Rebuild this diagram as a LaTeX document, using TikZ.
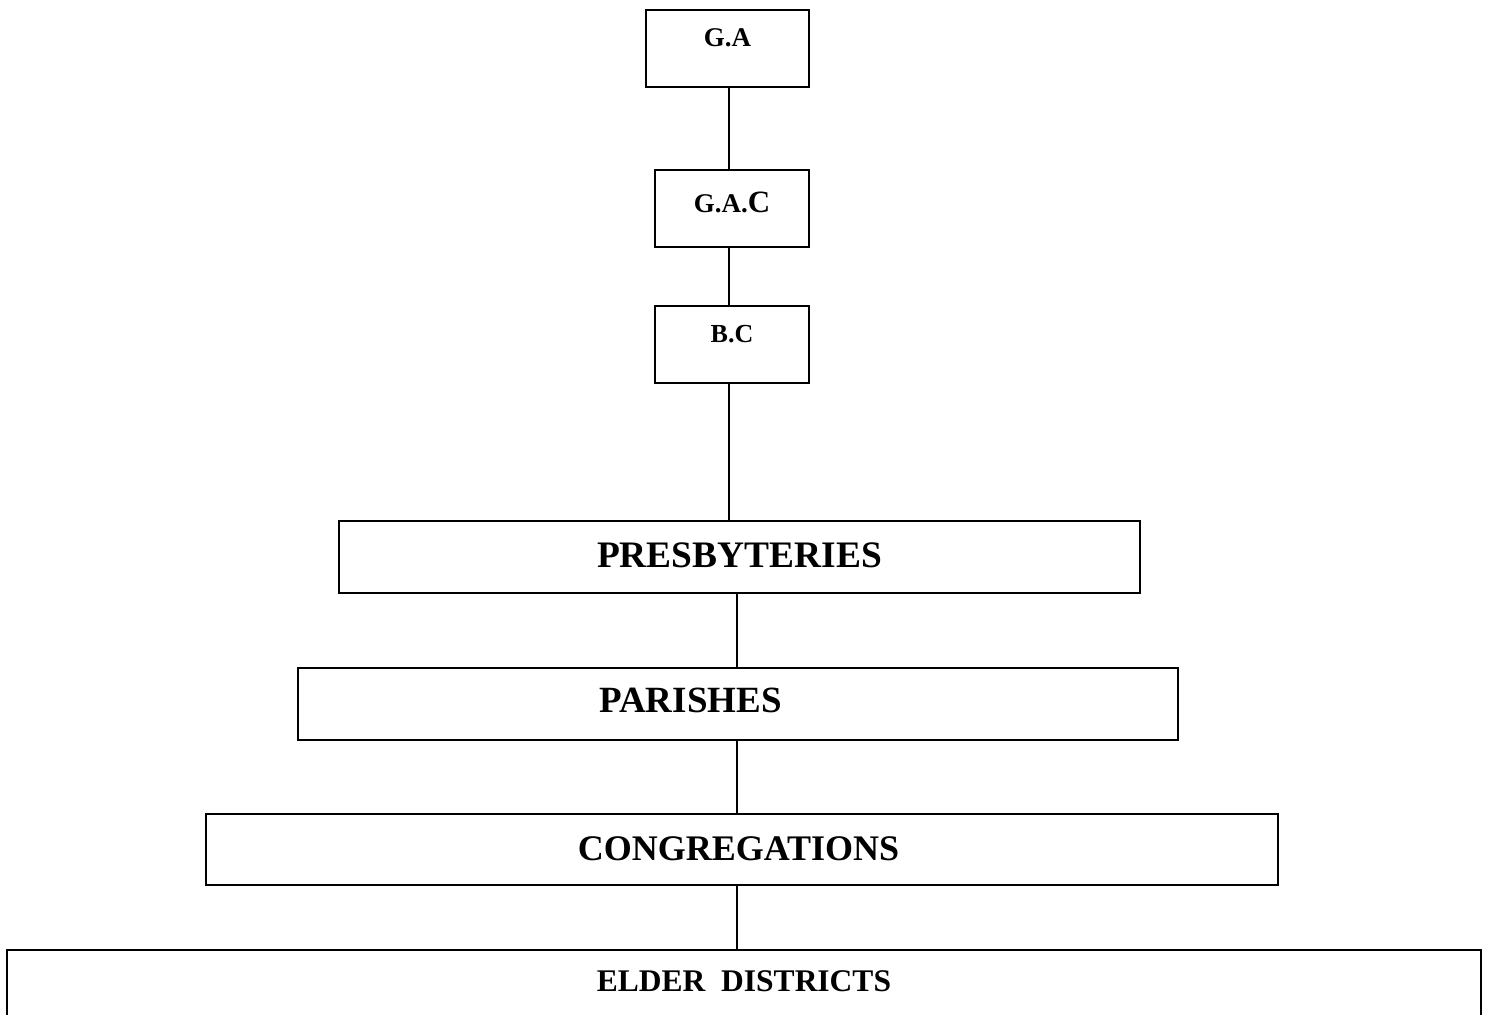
\documentclass[tikz,border=0pt]{standalone}
\usepackage{fontspec}
\setmainfont{Liberation Serif}
\begin{document}
\begin{tikzpicture}[x=0.5pt,y=-0.5pt,
  smallbox/.style={draw, rectangle, inner sep=0pt, line width=0.8pt,
    font=\bfseries\fontsize{13.5pt}{16pt}\selectfont},
  bigbox/.style={draw, rectangle, inner sep=0pt, line width=1.3pt},
  link/.style={line width=0.85pt}]
\useasboundingbox[fill=white] (0,0) rectangle (1486,1015);
% upper small boxes
\node[smallbox, minimum width=81.5pt, minimum height=38.5pt, text height=18.5pt, text depth=20pt] (ga) at (727.5,48.5) {G.A};
\node[smallbox, minimum width=77pt, minimum height=38.5pt, text height=21.5pt, text depth=17pt] (gac) at (732,208.5) {G.A.{\fontsize{15.5pt}{18pt}\selectfont C}};
\node[smallbox, minimum width=77pt, minimum height=38.5pt, text height=18.5pt, text depth=20pt, font=\bfseries\fontsize{13pt}{16pt}\selectfont] (bc) at (732,344.5) {B.C};
% big boxes
\node[bigbox, minimum width=400.5pt, minimum height=36pt, text height=23pt, text depth=13pt, font=\bfseries\fontsize{18.7pt}{22pt}\selectfont] (pres) at (739.5,557) {PRESBYTERIES};
\node[bigbox, minimum width=440pt, minimum height=36pt, text height=22pt, text depth=14pt, font=\bfseries\fontsize{18.5pt}{22pt}\selectfont] (par) at (738,704) {PARISHES\hspace*{47.5pt}};
\node[bigbox, minimum width=536pt, minimum height=35.5pt, text height=23pt, text depth=12.5pt, font=\bfseries\fontsize{18pt}{22pt}\selectfont] (cong) at (742,849.5) {CONGREGATIONS\hspace*{3.5pt}};
\node[bigbox, line width=1.1pt, minimum width=737pt, minimum height=34pt, text height=20.5pt, text depth=13.5pt, font=\bfseries\fontsize{15.75pt}{19pt}\selectfont] (elder) at (744,984) {ELDER\ \ DISTRICTS};
% connectors
\coordinate (ux) at (729,0);
\coordinate (lx) at (737,0);
\draw[link] (ga.south -| ux) -- (gac.north -| ux);
\draw[link] (gac.south -| ux) -- (bc.north -| ux);
\draw[link] (bc.south -| ux) -- (pres.north -| ux);
\draw[link] (pres.south -| lx) -- (par.north -| lx);
\draw[link] (par.south -| lx) -- (cong.north -| lx);
\draw[link] (cong.south -| lx) -- (elder.north -| lx);
\end{tikzpicture}
\end{document}
